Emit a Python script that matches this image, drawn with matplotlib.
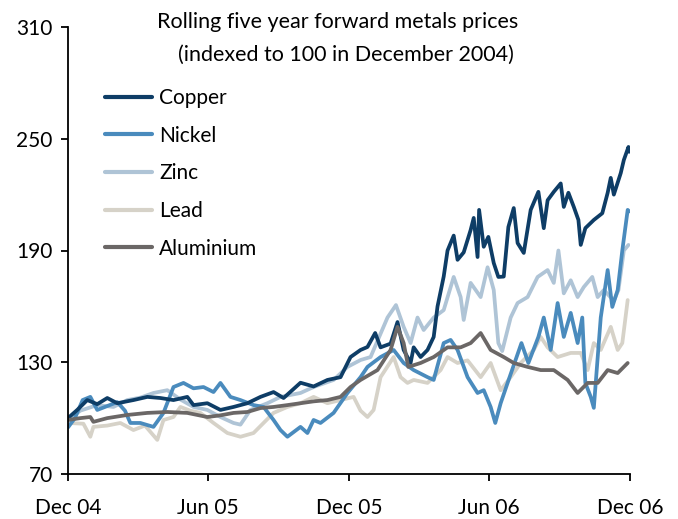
import matplotlib
matplotlib.use('Agg')
import matplotlib.pyplot as plt
import pandas as pd

# ---- data (day offsets from 1 Dec 2004, index values) ----
start = pd.Timestamp('2004-12-01')

copper_days = [0, 12, 25, 38, 51, 64, 85, 103, 120, 137, 155, 163, 181, 198, 215, 233, 250, 267,
               280, 302, 319, 337, 354, 367, 380, 389, 399, 406, 419, 428, 436, 445, 449, 458, 467,
               475, 480, 488, 493, 501, 506, 514, 523, 527, 532, 534, 540, 546, 553, 559, 566, 572,
               579, 584, 592, 601, 611, 618, 623, 631, 640, 644, 650, 657, 663, 666, 672, 683, 694,
               701, 705, 709, 718, 722, 728, 729]
copper_vals = [100, 104.4, 109.7, 107.5, 110.8, 108, 109.7, 111.4, 110.8, 109.7, 111.4, 107, 108,
               104.4, 106, 108, 111.4, 114, 110.8, 119, 117, 120.5, 122, 132.8, 136.6, 138.2, 145.7,
               138, 140, 151.6, 136.6, 129.6, 138, 132.8, 136.6, 143.6, 160, 176, 190, 198, 185, 189,
               201, 207.5, 186.5, 211.8, 192, 197.3, 183.3, 175.8, 176, 202.6, 212.8, 194, 188.7,
               211.8, 221.5, 202, 217, 221.5, 226, 213.4, 221, 213.4, 206.4, 193, 202, 206.4, 210,
               221, 229, 220, 231.6, 238.6, 245.6, 243]

nickel_days = [0, 9, 19, 29, 38, 48, 64, 74, 81, 94, 111, 124, 137, 150, 163, 176, 189, 198, 211,
               224, 241, 254, 267, 276, 285, 302, 311, 319, 328, 345, 363, 380, 389, 406, 423, 436,
               449, 467, 475, 488, 497, 506, 519, 532, 540, 549, 555, 562, 571, 580, 589, 598, 611,
               618, 627, 636, 644, 653, 662, 668, 672, 679, 683, 692, 701, 707, 714, 720, 727, 729]
nickel_vals = [95, 100, 109.7, 111.4, 104.4, 106, 108.6, 104, 97.4, 97.4, 95.3, 102.8, 116.7, 118.9,
               116, 116.7, 114, 118.9, 111.4, 109.7, 107, 106, 99, 93.6, 90, 95.3, 92, 99, 97.4,
               102.8, 113.5, 122, 127.5, 132.8, 136.6, 129.6, 125.8, 122, 120.5, 140.3, 142, 136.6,
               122, 113.5, 115, 106, 97.4, 108, 118.9, 129.6, 140.3, 129.6, 143.6, 154, 136.6, 161.8,
               143.6, 156.5, 140.3, 154, 118.9, 111.4, 105.5, 154, 179.5, 159.7, 168.8, 190, 211.8,
               211]

zinc_days = [0, 16, 38, 59, 77, 94, 111, 129, 146, 163, 181, 198, 215, 224, 237, 259, 276, 302,
             319, 345, 363, 380, 393, 415, 426, 436, 445, 454, 462, 475, 488, 501, 510, 514, 523, 536,
             545, 553, 559, 564, 575, 584, 597, 610, 623, 631, 637, 644, 653, 662, 670, 681, 688, 696,
             709, 715, 722, 728]
zinc_vals = [99, 104, 107, 106, 109.7, 111, 113.5, 115, 110, 106, 104.4, 100.6, 97.4, 96.5, 104.4,
             108, 111.4, 113.5, 116.7, 120.5, 127.5, 131.2, 132.8, 154, 160.7, 149, 140.3, 154,
             147.3, 154, 158, 175.8, 165, 152.7, 172.6, 165, 181, 168.8, 140.3, 136, 154, 161.8, 165,
             175.8, 179.5, 172.6, 190, 167, 174, 165, 170.4, 175.8, 165, 168.8, 163, 168.8, 190, 193]

lead_days = [0, 20, 29, 33, 51, 68, 85, 100, 116, 124, 137, 146, 159, 172, 189, 207, 224, 241, 254,
             267, 285, 302, 319, 337, 354, 371, 380, 389, 397, 406, 423, 432, 441, 449, 467, 484, 493,
             506, 519, 536, 549, 562, 575, 588, 605, 614, 623, 636, 653, 666, 675, 683, 692, 705, 714,
             720, 727]
lead_vals = [97.4, 97, 90, 95.3, 96, 97.4, 93.6, 96, 88.3, 99, 100.6, 106, 104, 102.8, 97.4, 92, 90,
             92, 97.4, 102.8, 106, 108, 111.4, 108, 109.7, 111.4, 104, 100.6, 104.4, 122, 132.8, 122,
             118.9, 120.5, 118.9, 125.8, 132.8, 129.6, 131, 122, 129.6, 115, 122, 129.6, 136.6,
             143.6, 138, 132.8, 135, 135, 125.8, 140.3, 136.6, 149, 136.6, 140.3, 163.4]

aluminium_days = [0, 16, 29, 33, 51, 77, 103, 129, 155, 181, 198, 215, 233, 250, 267, 285, 302, 319,
                  337, 354, 367, 380, 402, 419, 428, 436, 442, 458, 475, 493, 510, 523, 536, 549,
                  566, 579, 597, 614, 631, 649, 662, 675, 688, 701, 714, 727]
aluminium_vals = [99, 100, 100.6, 98, 100, 101.7, 102.8, 103.3, 102.8, 100.6, 101.5, 102.8, 103.3,
                  105.4, 106, 107, 108, 109, 109.7, 111.4, 116.7, 120.5, 125.8, 136.6, 149, 140.3,
                  127.5, 129.6, 132.8, 138, 138, 140.3, 145.7, 136.6, 132.8, 129.6, 127.5, 125.8,
                  125.8, 120.5, 113.5, 118.9, 118.9, 125.8, 124.2, 129.6]

series_names = ['Copper', 'Nickel', 'Zinc', 'Lead', 'Aluminium']
series_colors = ['#0e3d66', '#4a8bbd', '#afc4d6', '#d6d2c8', '#6b6766']
x_tick_labels = ['Dec 04', 'Jun 05', 'Dec 05', 'Jun 06', 'Dec 06']
x_tick_dates = ['2004-12-01', '2005-06-01', '2005-12-01', '2006-06-01', '2006-12-01']
y_ticks = [70, 130, 190, 250, 310]
title_line1 = 'Rolling five year forward metals prices'
title_line2 = '(indexed to 100 in December 2004)'

data = {
    'Copper': (copper_days, copper_vals),
    'Nickel': (nickel_days, nickel_vals),
    'Zinc': (zinc_days, zinc_vals),
    'Lead': (lead_days, lead_vals),
    'Aluminium': (aluminium_days, aluminium_vals),
}

plt.rcParams['font.family'] = ['Lato', 'DejaVu Sans']

fig = plt.figure(figsize=(6.78, 5.19), dpi=100)
ax = fig.add_axes([68 / 678, 45 / 519, 562 / 678, 447 / 519])

handles = {}
draw_order = ['Lead', 'Zinc', 'Nickel', 'Copper', 'Aluminium']
for name in draw_order:
    d, v = data[name]
    dates = start + pd.to_timedelta(d, unit='D')
    color = series_colors[series_names.index(name)]
    (ln,) = ax.plot(dates, v, color=color, lw=2.7, solid_joinstyle='round',
                    solid_capstyle='round')
    handles[name] = ln

ax.set_xlim(pd.Timestamp(x_tick_dates[0]), pd.Timestamp(x_tick_dates[-1]))
ax.set_ylim(y_ticks[0], y_ticks[-1])
ax.set_xticks([pd.Timestamp(t) for t in x_tick_dates])
ax.set_xticklabels(x_tick_labels)
ax.set_yticks(y_ticks)

for s in ['top', 'right']:
    ax.spines[s].set_visible(False)
for s in ['left', 'bottom']:
    ax.spines[s].set_linewidth(1.3)
    ax.spines[s].set_color('black')
ax.tick_params(axis='both', direction='out', length=5, width=1.3, labelsize=15, colors='black')
ax.tick_params(axis='x', pad=12)
ax.tick_params(axis='y', pad=6)

leg = ax.legend([handles[n] for n in series_names], series_names, loc='upper left',
                bbox_to_anchor=(0.066, 0.864), frameon=False, fontsize=15,
                handlelength=2.25, handletextpad=0.35, labelspacing=0.85, borderpad=0,
                borderaxespad=0)
for h in leg.legend_handles:
    h.set_linewidth(3.0)

fig.text(338 / 678, 1 - 22 / 519, title_line1, ha='center', va='center', fontsize=15.5)
fig.text(346 / 678, 1 - 55 / 519, title_line2, ha='center', va='center', fontsize=15.5)

fig.savefig('out.png', dpi=100)
